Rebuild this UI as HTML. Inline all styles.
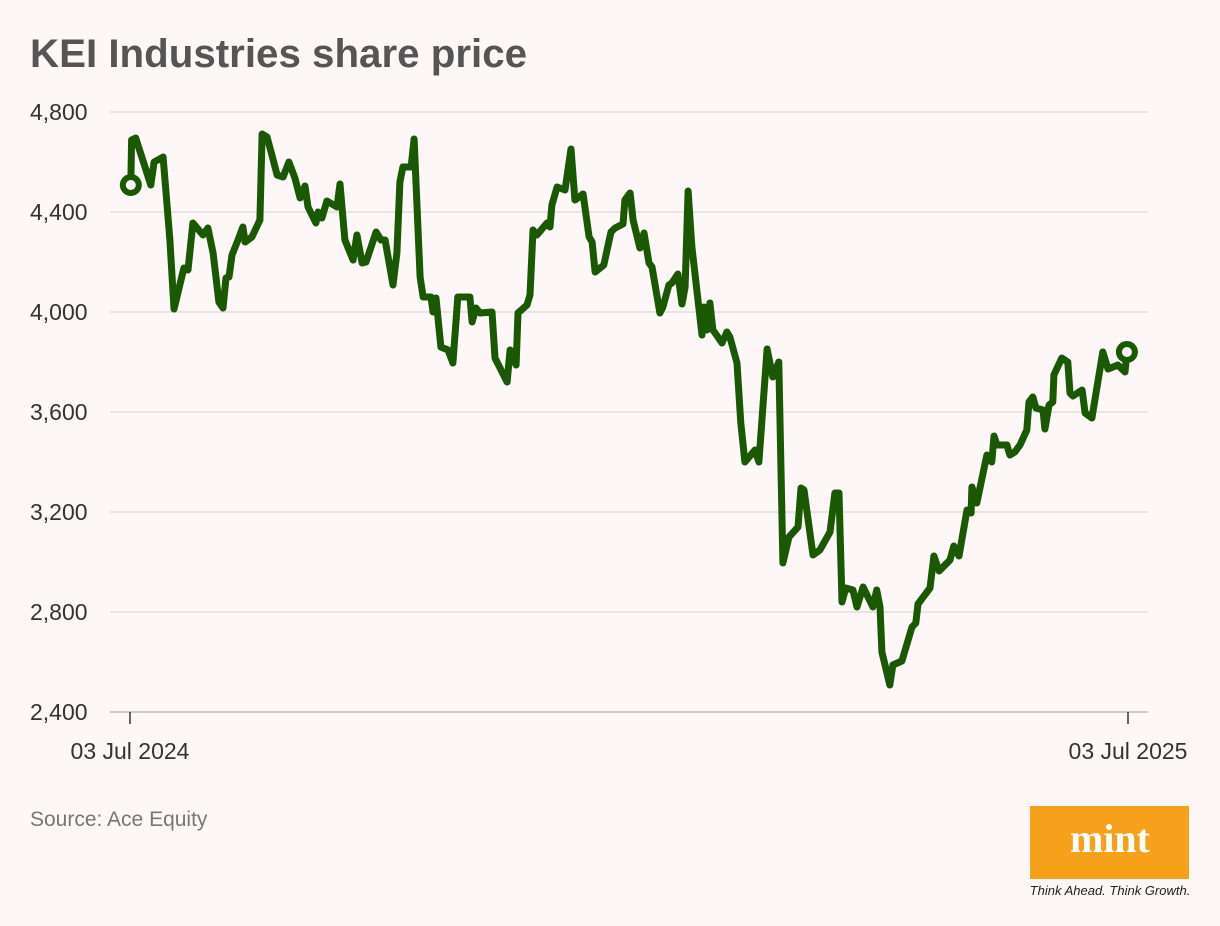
<!DOCTYPE html>
<html><head><meta charset="utf-8"><style>
body{margin:0;background:#fdf8f7;width:1220px;height:926px;overflow:hidden;font-family:"Liberation Sans",sans-serif;}
svg{position:absolute;left:0;top:0}
</style></head><body>
<svg width="1220" height="926">
<rect width="1220" height="926" fill="#fdf8f7"/>
<text x="30" y="67" font-size="40" font-weight="bold" fill="#555" textLength="497" lengthAdjust="spacingAndGlyphs">KEI Industries share price</text>
<g id="grid"></g>
<g id="yl"></g>
<g id="xa"></g>
<path id="line" fill="none" stroke="#1b5804" stroke-width="7" stroke-linejoin="round"/>
<circle id="c0" r="8" fill="#fdf8f7" stroke="#1b5804" stroke-width="6"/>
<circle id="c1" r="8" fill="#fdf8f7" stroke="#1b5804" stroke-width="6"/>
<text x="30" y="826" font-size="21" fill="#777">Source: Ace Equity</text>
<g>
<rect x="1030" y="806" width="159" height="73" fill="#f7a01c"/>
<text x="1110" y="852" font-size="40" font-weight="bold" fill="#fff" text-anchor="middle" font-family="Liberation Serif,serif">mint</text>
<text x="1110" y="895" font-size="13" font-style="italic" fill="#222" text-anchor="middle">Think Ahead. Think Growth.</text>
</g>
</svg>
<script>
const yTicks=[2400,2800,3200,3600,4000,4400,4800];
const yTickLabels=["2,400","2,800","3,200","3,600","4,000","4,400","4,800"];
const xTickDays=[0,365];
const xTickLabels=["03 Jul 2024","03 Jul 2025"];
const days=[0.3,0.6,2.1,7.6,8.8,12.1,14.6,16.1,19.7,21.2,23.0,26.7,28.5,30.4,32.5,34.0,35.1,36.2,37.3,39.5,41.3,42.1,44.6,47.5,48.3,50.1,51.9,53.8,56.0,58.1,60.3,62.2,64.0,65.1,68.0,68.8,70.2,72.0,75.7,76.8,78.6,81.6,83.0,84.9,86.3,90.0,91.8,93.3,96.2,97.6,98.7,99.8,102.8,103.9,106.1,107.2,110.1,110.8,111.9,113.7,116.3,118.1,119.9,124.3,125.1,126.5,128.0,132.4,133.5,137.9,139.0,141.2,141.9,145.2,146.3,147.4,148.8,152.5,153.6,154.3,156.2,159.1,161.3,162.7,165.7,167.9,169.0,170.1,173.3,175.9,177.4,180.3,181.0,182.9,184.0,186.5,188.0,189.8,190.9,193.8,194.9,197.1,198.2,200.4,201.9,203.0,204.1,205.5,209.2,209.9,211.0,212.1,213.2,215.0,216.5,218.3,219.4,222.0,223.4,224.9,228.6,230.0,233.0,235.1,237.3,238.8,241.0,244.3,245.4,246.5,249.8,252.3,256.0,257.8,259.3,260.4,261.8,264.4,265.9,268.1,271.7,273.1,274.3,275.0,277.9,279.0,282.3,286.0,287.4,288.2,292.6,294.0,295.9,299.9,301.3,303.2,306.1,307.6,307.9,309.7,313.4,315.2,316.0,317.1,320.7,321.8,323.6,325.5,328.0,328.8,330.2,331.3,333.9,334.6,336.1,337.5,337.9,340.8,343.0,343.8,344.9,348.2,349.3,351.8,355.8,357.7,361.3,363.9,364.6];
const prices=[4508,4688,4696,4508,4600,4620,4288,4012,4176,4168,4356,4308,4336,4236,4040,4016,4136,4140,4228,4288,4340,4280,4300,4368,4712,4700,4628,4548,4540,4600,4536,4456,4504,4420,4356,4400,4376,4444,4420,4512,4288,4208,4308,4196,4200,4320,4288,4288,4108,4236,4520,4580,4580,4692,4140,4060,4060,4000,4056,3860,3848,3796,4060,4060,3960,4016,3996,4000,3816,3720,3848,3788,3996,4028,4068,4328,4308,4356,4340,4428,4500,4488,4652,4448,4472,4300,4280,4160,4188,4320,4336,4352,4448,4476,4368,4256,4316,4196,4180,3996,4020,4108,4116,4152,4032,4100,4484,4260,3908,4020,3928,4036,3928,3900,3876,3920,3900,3796,3556,3400,3448,3400,3852,3740,3800,2996,3100,3140,3296,3288,3028,3048,3120,3276,3276,2840,2896,2888,2820,2900,2820,2888,2820,2640,2508,2588,2604,2740,2756,2832,2896,3024,2964,3008,3064,3024,3208,3196,3300,3236,3428,3400,3504,3468,3468,3428,3440,3468,3528,3640,3660,3616,3608,3532,3628,3640,3748,3816,3800,3676,3664,3688,3596,3576,3840,3772,3788,3760,3840];
const NS="http://www.w3.org/2000/svg";
const X=d=>130+d*998/365;
const Y=v=>712-(v-2400)*0.25;
const grid=document.getElementById('grid'),yl=document.getElementById('yl'),xa=document.getElementById('xa');
yTicks.forEach((t,i)=>{
  const l=document.createElementNS(NS,'line');
  l.setAttribute('x1',110);l.setAttribute('x2',1148);l.setAttribute('y1',Y(t));l.setAttribute('y2',Y(t));
  l.setAttribute('stroke',i===0?'#bbb':'#e2dddc');l.setAttribute('stroke-width',1.5);
  
  
  grid.appendChild(l);
  const tx=document.createElementNS(NS,'text');
  tx.setAttribute('x',30);tx.setAttribute('y',Y(t)+8);tx.setAttribute('font-size',23);tx.setAttribute('fill','#333');
  tx.textContent=yTickLabels[i];
  
  
  yl.appendChild(tx);
});
xTickDays.forEach((d,i)=>{
  const l=document.createElementNS(NS,'line');
  l.setAttribute('x1',X(d));l.setAttribute('x2',X(d));l.setAttribute('y1',712);l.setAttribute('y2',724);
  l.setAttribute('stroke','#333');l.setAttribute('stroke-width',1.5);
  
  
  xa.appendChild(l);
  const tx=document.createElementNS(NS,'text');
  tx.setAttribute('x',X(d));tx.setAttribute('y',759);tx.setAttribute('font-size',23);tx.setAttribute('fill','#333');tx.setAttribute('text-anchor','middle');
  tx.textContent=xTickLabels[i];
  
  
  xa.appendChild(tx);
});
document.getElementById('line').setAttribute('d',days.map((d,i)=>(i?'L':'M')+X(d).toFixed(1)+','+Y(prices[i]).toFixed(1)).join(''));
const c0=document.getElementById('c0'),c1=document.getElementById('c1'),n=days.length-1;
c0.setAttribute('cx',X(days[0]));c0.setAttribute('cy',Y(prices[0]));
c1.setAttribute('cx',X(days[n]));c1.setAttribute('cy',Y(prices[n]));
</script>
</body></html>
